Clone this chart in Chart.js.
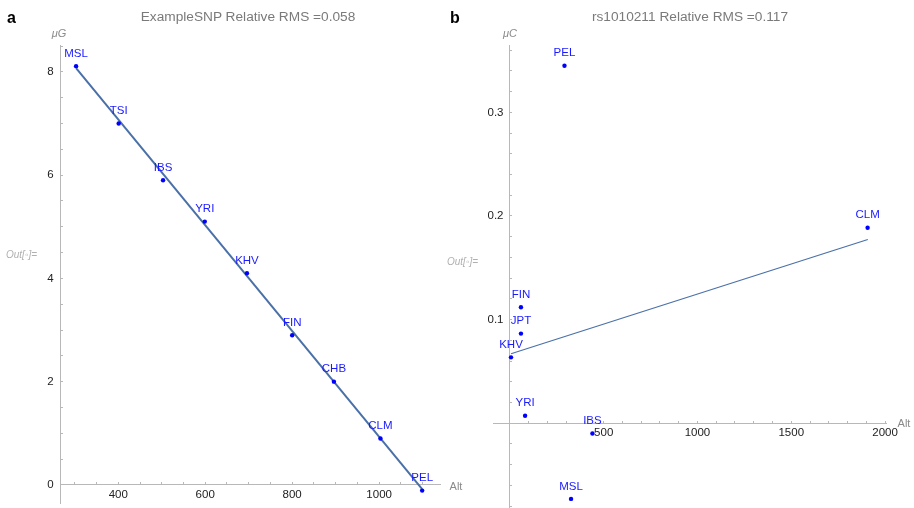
<!DOCTYPE html>
<html>
<head>
<meta charset="utf-8">
<script src="https://cdn.jsdelivr.net/npm/chart.js@4.4.0/dist/chart.umd.min.js"></script>
<style>
  body { margin: 0; width: 914px; height: 508px; overflow: hidden; background: #fff; font-family: "Liberation Sans", Arial, sans-serif; position: relative; }
  canvas { position: absolute; top: 0; }
  .txt { position: absolute; white-space: nowrap; transform: translate(-50%, -50%); }
  .title { font-size: 13.7px; color: #7a7a7a; }
  .panel { font-size: 16px; font-weight: bold; color: #000; transform: none; }
  .axlab { font-size: 11px; color: #8a8a8a; }
  .out { font-size: 10px; color: #b0b0b0; font-style: italic; transform: translate(0, -50%); }
</style>
</head>
<body>
<canvas id="chartA" width="457" height="530" style="left:0"></canvas>
<canvas id="chartB" width="457" height="550" style="left:457px"></canvas>

<div class="txt panel" style="left:7px;top:9px">a</div>
<div class="txt panel" style="left:450px;top:9px">b</div>
<div class="txt title" style="left:248px;top:16px">ExampleSNP Relative RMS =0.058</div>
<div class="txt title" style="left:690px;top:16px">rs1010211 Relative RMS =0.117</div>
<div class="txt axlab" style="left:59px;top:33px;font-style:italic">μG</div>
<div class="txt axlab" style="left:510px;top:33px;font-style:italic">μC</div>
<div class="txt axlab" style="left:456px;top:486px">Alt</div>
<div class="txt axlab" style="left:904px;top:423px">Alt</div>
<div class="txt out" style="left:6px;top:254px">Out[◦]=</div>
<div class="txt out" style="left:447px;top:261px">Out[◦]=</div>

<script>
// panel a: ExampleSNP
var popsA = ['MSL', 'TSI', 'IBS', 'YRI', 'KHV', 'FIN', 'CHB', 'CLM', 'PEL'];
var altA = [303, 401, 503, 599, 696, 800, 896, 1003, 1099];
var muG = [8.11, 7.0, 5.9, 5.1, 4.1, 2.9, 2.0, 0.9, -0.11];
var fitAltA = [303, 1099];
var fitMuG = [8.07, -0.08];
var xLabelsA = [400, 600, 800, 1000];
var yLabelsA = [0, 2, 4, 6, 8];

// panel b: rs1010211
var popsB = ['PEL', 'CLM', 'FIN', 'JPT', 'KHV', 'YRI', 'IBS', 'MSL'];
var altB = [291, 1907, 59, 59, 6, 81, 440, 326];
var muC = [0.345, 0.1886, 0.112, 0.0865, 0.0636, 0.0072, -0.0099, -0.073];
var fitAltB = [6, 1908];
var fitMuC = [0.0671, 0.1773];
var xLabelsB = [500, 1000, 1500, 2000];
var yLabelsB = [0.1, 0.2, 0.3];

var FONT = "'Liberation Sans', Arial, sans-serif";
var AXIS_GRAY = '#b8b8b8';

function pts(xs, ys) {
    return xs.map(function (x, i) { return { x: x, y: ys[i] }; });
}

function tickList(from, to, step) {
    var out = [];
    for (var v = from; v <= to + step / 1000; v += step) {
        out.push({ value: Math.round(v * 1000) / 1000 });
    }
    return out;
}

function isMajor(v, labels) {
    return labels.some(function (l) { return Math.abs(l - v) < 1e-6; });
}

// names above each point of the first dataset
var pointNames = {
    id: 'pointNames',
    afterDatasetsDraw: function (chart) {
        var names = chart.options.plugins.pointNames.names;
        var meta = chart.getDatasetMeta(0);
        var ctx = chart.ctx;
        ctx.save();
        ctx.font = '11.5px ' + FONT;
        ctx.fillStyle = '#1a1aff';
        ctx.textAlign = 'center';
        ctx.textBaseline = 'middle';
        meta.data.forEach(function (el, i) {
            ctx.fillText(names[i], el.x, el.y - 12.5);
        });
        ctx.restore();
    }
};

function makeChart(id, o) {
    var ctx = document.getElementById(id).getContext('2d');
    return new Chart(ctx, {
        type: 'scatter',
        data: {
            datasets: [{
                data: pts(o.xs, o.ys),
                pointRadius: 2.2,
                pointBackgroundColor: '#0000ff',
                pointBorderWidth: 0,
                showLine: false
            }, {
                data: pts(o.fitX, o.fitY),
                showLine: true,
                pointRadius: 0,
                borderColor: '#4a70a8',
                borderWidth: o.lineWidth,
                fill: false
            }]
        },
        options: {
            responsive: false,
            animation: false,
            layout: { padding: o.padding },
            plugins: {
                legend: { display: false },
                tooltip: { enabled: false },
                pointNames: { names: o.names }
            },
            scales: {
                x: {
                    type: 'linear',
                    min: o.xMin,
                    max: o.xMax,
                    position: { y: 0 },
                    afterBuildTicks: function (s) { s.ticks = tickList(o.xTickFrom, o.xTickTo, o.xStep); },
                    grid: { drawOnChartArea: false, tickLength: -3, color: AXIS_GRAY },
                    border: { display: true, color: AXIS_GRAY, width: 1 },
                    ticks: {
                        padding: 6,
                        maxRotation: 0,
                        autoSkip: false,
                        color: '#222',
                        font: { family: FONT, size: 11.5 },
                        callback: function (v) { return isMajor(v, o.xLabels) ? String(v) : ''; }
                    }
                },
                y: {
                    type: 'linear',
                    min: o.yMin,
                    max: o.yMax,
                    position: { x: o.yAxisAt },
                    afterBuildTicks: function (s) { s.ticks = tickList(o.yTickFrom, o.yTickTo, o.yStep); },
                    grid: { drawOnChartArea: false, tickLength: -3, color: AXIS_GRAY },
                    border: { display: true, color: AXIS_GRAY, width: 1 },
                    ticks: {
                        padding: 0,
                        autoSkip: false,
                        color: '#222',
                        font: { family: FONT, size: 11.5 },
                        callback: function (v) { return isMajor(v, o.yLabels) ? String(v) + '  ' : ''; }
                    }
                }
            }
        },
        plugins: [pointNames]
    });
}

makeChart('chartA', {
    xs: altA, ys: muG, fitX: fitAltA, fitY: fitMuG, names: popsA,
    lineWidth: 2,
    padding: { left: 60, right: 17, top: 45, bottom: 27 },
    xMin: 266, xMax: 1140, yMin: -0.35, yMax: 8.52, yAxisAt: 266,
    xTickFrom: 300, xTickTo: 1100, xStep: 50, xLabels: xLabelsA,
    yTickFrom: 0, yTickTo: 8.5, yStep: 0.5, yLabels: yLabelsA
});

makeChart('chartB', {
    xs: altB, ys: muC, fitX: fitAltB, fitY: fitMuC, names: popsB,
    lineWidth: 1.2,
    padding: { left: 36, right: 28, top: 45, bottom: 20 },
    xMin: -90, xMax: 2005, yMin: -0.103, yMax: 0.365, yAxisAt: 0,
    xTickFrom: 0, xTickTo: 2000, xStep: 100, xLabels: xLabelsB,
    yTickFrom: -0.1, yTickTo: 0.36, yStep: 0.02, yLabels: yLabelsB
});
</script>
</body>
</html>
